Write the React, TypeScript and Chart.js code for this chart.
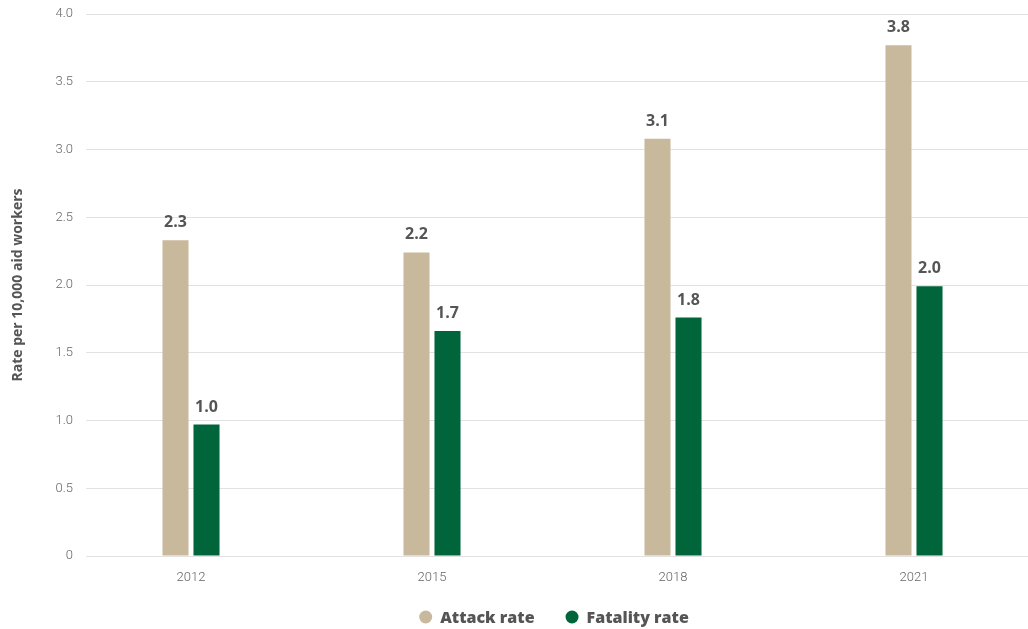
import React, { useEffect, useRef } from 'react';
import { Chart, registerables } from 'chart.js';

Chart.register(...registerables);

// Survey years on the category axis
const years = ['2012', '2015', '2018', '2021'];
// Rates per 10,000 aid workers
const attackRate = [2.33, 2.24, 3.08, 3.77];
const fatalityRate = [0.97, 1.66, 1.76, 1.99];
// Third, empty slot in every group (keeps the pair left of the category centre)
const reservedSlot: (number | null)[] = [null, null, null, null];
// Value axis ticks
const yMin = 0;
const yMax = 4;
const yStep = 0.5;

const ATTACK_COLOR = '#c9b99c';
const FATALITY_COLOR = '#00653a';
const LABEL_COLOR = '#555555';
const BOLD_FONT = '"Open Sans", "Lato", sans-serif';
const LIGHT_FONT = 'Roboto, "Open Sans", sans-serif';

// Writes the rounded value above every bar
const valueLabels = {
  id: 'valueLabels',
  afterDatasetsDraw(chart: any) {
    const ctx = chart.ctx;
    ctx.save();
    ctx.font = `bold 16px ${BOLD_FONT}`;
    ctx.fillStyle = LABEL_COLOR;
    ctx.textAlign = 'center';
    ctx.textBaseline = 'alphabetic';
    [0, 1].forEach((di) => {
      const meta = chart.getDatasetMeta(di);
      const data = chart.data.datasets[di].data as (number | null)[];
      meta.data.forEach((bar: any, i: number) => {
        const v = data[i];
        if (v == null) return;
        ctx.fillText(v.toFixed(1), bar.x, bar.y - 13);
      });
    });
    ctx.restore();
  },
};

// Legend row under the axis: dot + bold series name for the two visible series
const legendRow = {
  id: 'legendRow',
  afterDraw(chart: any) {
    const ctx = chart.ctx;
    const items = [0, 1].map((di) => ({
      text: chart.data.datasets[di].label as string,
      color: chart.data.datasets[di].backgroundColor as string,
    }));
    const centerX = 554;
    const centerY = 617;
    const radius = 6.5;
    const dotToText = 8;
    const itemGap = 31;
    ctx.save();
    ctx.font = `800 16px ${BOLD_FONT}`;
    const widths = items.map((it) => radius * 2 + dotToText + ctx.measureText(it.text).width);
    const total = widths.reduce((a, b) => a + b, 0) + itemGap * (items.length - 1);
    let x = centerX - total / 2;
    ctx.textBaseline = 'middle';
    ctx.textAlign = 'left';
    items.forEach((it, i) => {
      ctx.fillStyle = it.color;
      ctx.beginPath();
      ctx.arc(x + radius, centerY, radius, 0, Math.PI * 2);
      ctx.fill();
      ctx.fillStyle = LABEL_COLOR;
      ctx.fillText(it.text, x + radius * 2 + dotToText, centerY + 1);
      x += widths[i] + itemGap;
    });
    ctx.restore();
  },
};

export default function App() {
  const canvasRef = useRef<HTMLCanvasElement | null>(null);

  useEffect(() => {
    if (!canvasRef.current) return;
    const chart = new Chart(canvasRef.current, {
      type: 'bar',
      data: {
        labels: years,
        datasets: [
          {
            label: 'Attack rate',
            data: attackRate,
            backgroundColor: ATTACK_COLOR,
            borderWidth: 0,
          },
          {
            label: 'Fatality rate',
            data: fatalityRate,
            backgroundColor: FATALITY_COLOR,
            borderWidth: 0,
          },
          {
            label: 'reserved',
            data: reservedSlot,
            backgroundColor: 'rgba(0,0,0,0)',
            borderWidth: 0,
          },
        ],
      },
      options: {
        responsive: false,
        animation: false,
        devicePixelRatio: 1,
        datasets: {
          bar: {
            categoryPercentage: 0.386,
            barPercentage: 0.84,
          },
        },
        layout: {
          padding: { top: 14, right: 0, bottom: 43, left: 0 },
        },
        scales: {
          x: {
            afterFit(scale: any) {
              scale.height = 30;
            },
            grid: { display: false, drawTicks: false },
            border: { display: false },
            ticks: {
              padding: 14,
              labelOffset: -15.5,
              color: '#666666',
              font: { family: LIGHT_FONT, size: 13, weight: 300 },
            },
          },
          y: {
            min: yMin,
            max: yMax,
            afterFit(scale: any) {
              scale.width = 86;
              scale.paddingTop = 0;
              scale.paddingBottom = 0;
            },
            grid: { color: '#e2e2e2', drawTicks: false, lineWidth: 1 },
            border: { display: false },
            ticks: {
              stepSize: yStep,
              padding: 13,
              color: '#666666',
              font: { family: LIGHT_FONT, size: 13, weight: 300 },
              callback: (v: any) => (Number(v) === 0 ? '0' : Number(v).toFixed(1)),
            },
            title: {
              display: true,
              text: 'Rate per 10,000 aid workers',
              color: LABEL_COLOR,
              font: { family: BOLD_FONT, size: 14, weight: 'bold' },
              padding: { top: 10, bottom: 0 },
            },
          },
        },
        plugins: {
          tooltip: { enabled: false },
          legend: { display: false },
        },
      },
      plugins: [valueLabels, legendRow],
    });
    return () => chart.destroy();
  }, []);

  return (
    <div
      style={{
        position: 'fixed',
        left: 0,
        top: 0,
        width: 1028,
        height: 629,
        overflow: 'hidden',
        background: '#ffffff',
      }}
    >
      <canvas ref={canvasRef} width={1050} height={629} style={{ display: 'block' }} />
    </div>
  );
}
